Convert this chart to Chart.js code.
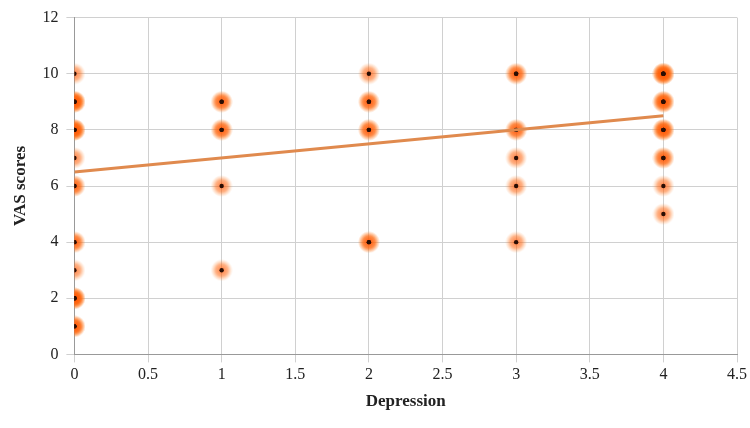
<!DOCTYPE html>
<html>
<head>
<script src="https://cdn.jsdelivr.net/npm/chart.js@4"></script>
<style>
  body { margin: 0; background: #fff; }
  #wrap { width: 750px; height: 428px; }
</style>
</head>
<body>
<div id="wrap"><canvas id="chart"></canvas></div>
<script>
// --- Data (repeated points = overlapping observations) ---
const depression = [
  0,0,0,0,0,0,0,0,0,0,0,0,0,0,0,0,0,0,0,0,0,0,
  1,1,1,1,1,1,
  2,2,2,2,2,2,2,
  3,3,3,3,3,3,3,
  4,4,4,4,4,4,4,4,4,4,4,4,4,4
];
const vasScores = [
  10,9,9,9,9,8,8,8,8,7,6,6,4,4,3,2,2,2,2,1,1,1,
  9,9,8,8,6,3,
  10,9,9,8,8,4,4,
  10,10,8,8,7,6,4,
  10,10,10,10,9,9,9,8,8,8,7,7,6,5
];
const trendX = [0, 4];
const trendY = [6.5, 8.5];

// --- Glow point style ---
function makeGlow() {
  const c = document.createElement('canvas');
  c.width = 22; c.height = 22;
  const g = c.getContext('2d');
  const grad = g.createRadialGradient(11, 11, 0, 11, 11, 11);
  grad.addColorStop(0, 'rgba(255,80,0,0.75)');
  grad.addColorStop(0.55, 'rgba(255,100,10,0.5)');
  grad.addColorStop(1, 'rgba(255,150,70,0)');
  g.fillStyle = grad;
  g.beginPath(); g.arc(11, 11, 11, 0, Math.PI * 2); g.fill();
  return c;
}
const glow = makeGlow();

const pts = depression.map((x, i) => ({ x: x, y: vasScores[i] }));
const serif = 'Liberation Serif';

new Chart(document.getElementById('chart'), {
  type: 'scatter',
  data: {
    datasets: [
      {
        data: trendX.map((x, i) => ({ x: x, y: trendY[i] })),
        showLine: true,
        borderColor: '#e08a4e',
        borderWidth: 3,
        pointRadius: 0,
        order: 1
      },
      {
        data: pts,
        pointStyle: glow,
        order: 3
      },
      {
        data: pts,
        pointRadius: 2.2,
        backgroundColor: '#2a0e04',
        borderWidth: 0,
        order: 2
      }
    ]
  },
  options: {
    responsive: true,
    maintainAspectRatio: false,
    animation: false,
    layout: { padding: { top: 10, right: 12, left: 6, bottom: 12 } },
    plugins: { legend: { display: false }, tooltip: { enabled: false } },
    scales: {
      x: {
        min: 0, max: 4.5,
        ticks: { stepSize: 0.5, color: '#222', font: { family: serif, size: 16 },
          callback: v => String(v) },
        grid: { color: '#d0d0d0' },
        border: { color: '#999' },
        title: { display: true, text: 'Depression', color: '#222', font: { family: serif, size: 17, weight: 'bold' } }
      },
      y: {
        min: 0, max: 12,
        ticks: { stepSize: 2, color: '#222', font: { family: serif, size: 16 }, padding: 8 },
        grid: { color: '#d0d0d0' },
        border: { color: '#999' },
        title: { display: true, text: 'VAS scores', color: '#222', font: { family: serif, size: 17, weight: 'bold' } }
      }
    }
  }
});
</script>
</body>
</html>
